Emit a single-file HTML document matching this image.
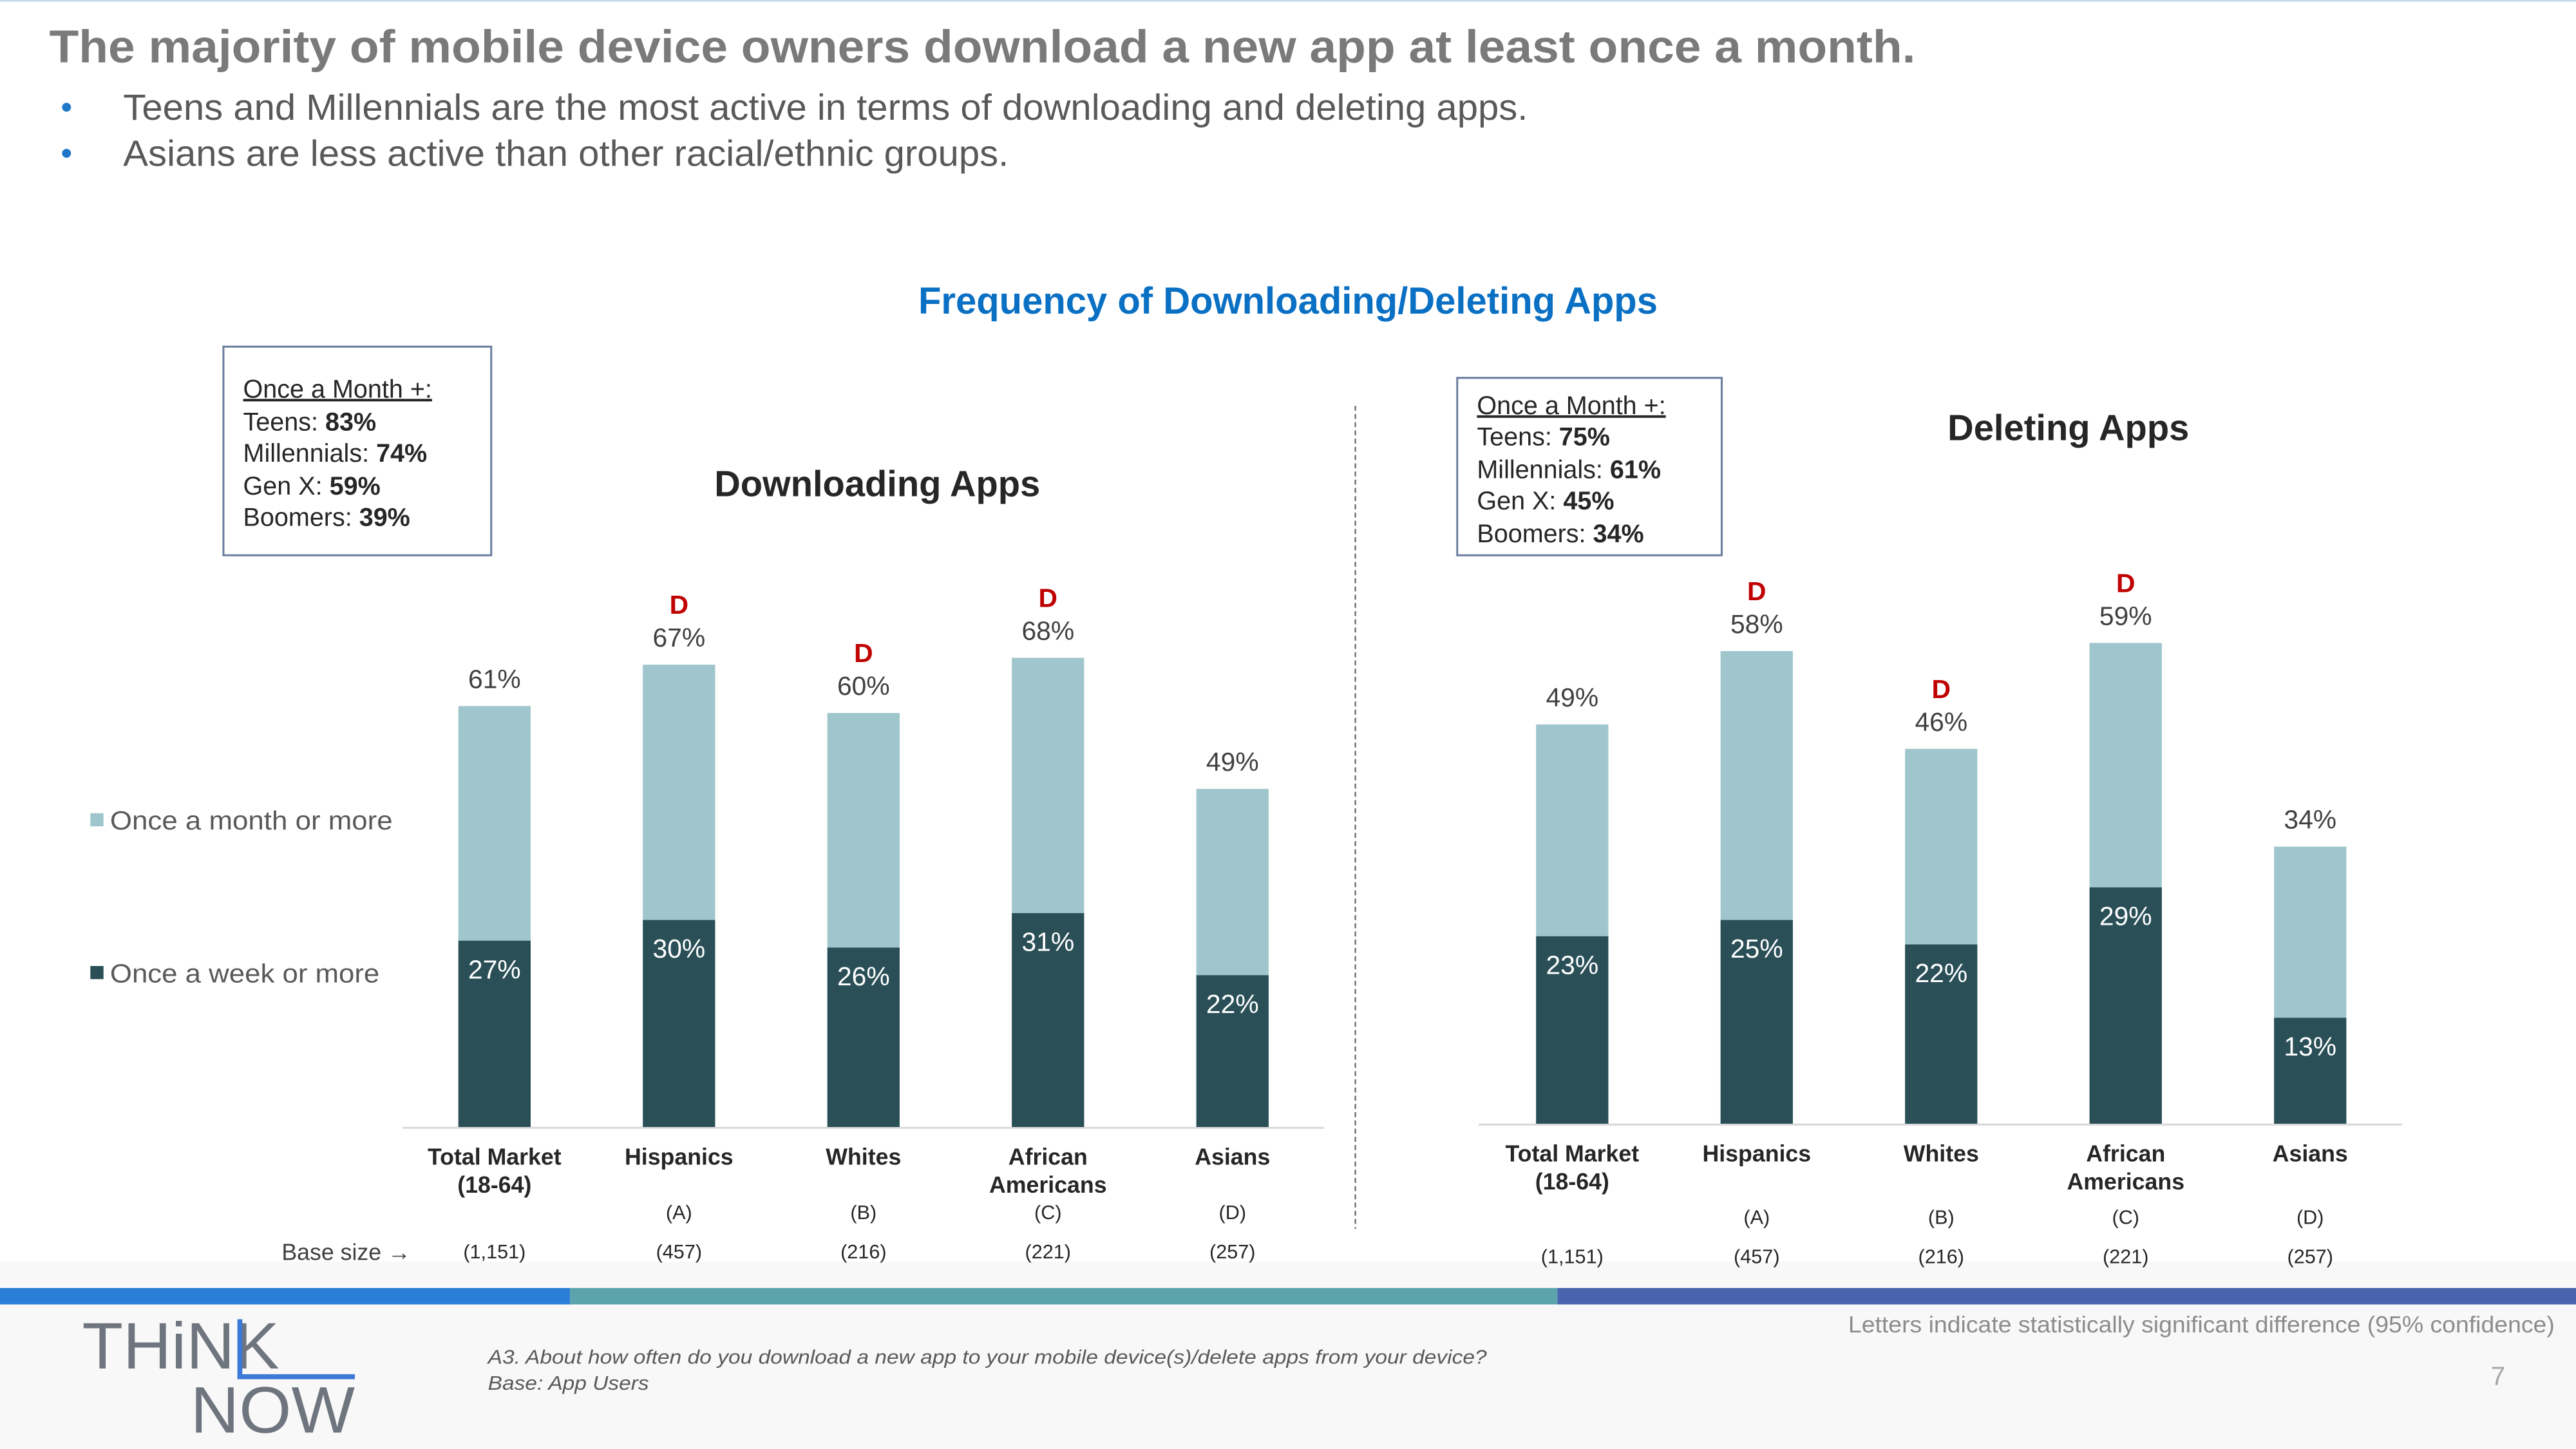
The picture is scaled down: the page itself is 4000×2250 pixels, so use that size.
<!DOCTYPE html>
<html><head><meta charset="utf-8"><style>
html,body{margin:0;padding:0;background:#fff}
svg{display:block}
text{font-family:"Liberation Sans",Arial,sans-serif}
</style></head><body>
<svg id="s" width="4000" height="2250" viewBox="0 0 1568 882" xmlns="http://www.w3.org/2000/svg">
<rect x="0" y="0" width="1568" height="882" fill="#fff"/>
<rect x="0" y="768" width="1568" height="114" fill="#f8f8f8"/>
<line x1="0" y1="0.5" x2="1568" y2="0.5" stroke="#bcd8ea" stroke-width="1"/>
<text x="30" y="38" font-size="28" font-weight="bold" fill="#7a7a7a" textLength="1136" lengthAdjust="spacingAndGlyphs">The majority of mobile device owners download a new app at least once a month.</text>
<text x="37" y="72" font-size="20" fill="#1f77c9">•</text>
<text x="75" y="73" font-size="22" fill="#595959" textLength="855" lengthAdjust="spacingAndGlyphs">Teens and Millennials are the most active in terms of downloading and deleting apps.</text>
<text x="37" y="100" font-size="20" fill="#1f77c9">•</text>
<text x="75" y="101" font-size="22" fill="#595959" textLength="539" lengthAdjust="spacingAndGlyphs">Asians are less active than other racial/ethnic groups.</text>
<text x="784" y="191" font-size="23" font-weight="bold" fill="#0a70c4" text-anchor="middle" textLength="450" lengthAdjust="spacingAndGlyphs">Frequency of Downloading/Deleting Apps</text>

<g>
<rect x="136" y="211" width="163" height="127" fill="#fff" stroke="#6b7fa0" stroke-width="1.2"/>
<text x="148" y="242" font-size="15.5" fill="#262626" text-decoration="underline">Once a Month +:</text>
<text x="148" y="262" font-size="15.5" fill="#262626">Teens: <tspan font-weight="bold">83%</tspan></text>
<text x="148" y="281" font-size="15.5" fill="#262626">Millennials: <tspan font-weight="bold">74%</tspan></text>
<text x="148" y="301" font-size="15.5" fill="#262626">Gen X: <tspan font-weight="bold">59%</tspan></text>
<text x="148" y="320" font-size="15.5" fill="#262626">Boomers: <tspan font-weight="bold">39%</tspan></text>
</g>
<g>
<rect x="887" y="230" width="161" height="108" fill="#fff" stroke="#6b7fa0" stroke-width="1.2"/>
<text x="899" y="252" font-size="15.5" fill="#262626" text-decoration="underline">Once a Month +:</text>
<text x="899" y="271" font-size="15.5" fill="#262626">Teens: <tspan font-weight="bold">75%</tspan></text>
<text x="899" y="291" font-size="15.5" fill="#262626">Millennials: <tspan font-weight="bold">61%</tspan></text>
<text x="899" y="310" font-size="15.5" fill="#262626">Gen X: <tspan font-weight="bold">45%</tspan></text>
<text x="899" y="330" font-size="15.5" fill="#262626">Boomers: <tspan font-weight="bold">34%</tspan></text>
</g>
<text x="534" y="302" font-size="22" font-weight="bold" fill="#262626" text-anchor="middle">Downloading Apps</text>
<text x="1259" y="268" font-size="22" font-weight="bold" fill="#262626" text-anchor="middle">Deleting Apps</text>
<line x1="825" y1="247" x2="825" y2="748" stroke="#777" stroke-width="1" stroke-dasharray="3,2"/>

<g>
<rect x="55" y="495" width="8" height="8" fill="#9fc6cc"/>
<text x="67" y="505" font-size="16" fill="#595959" textLength="172" lengthAdjust="spacingAndGlyphs">Once a month or more</text>
<rect x="55" y="588" width="8" height="8" fill="#2a4f57"/>
<text x="67" y="598" font-size="16" fill="#595959" textLength="164" lengthAdjust="spacingAndGlyphs">Once a week or more</text>
</g>
<text x="250" y="767" font-size="14" fill="#404040" text-anchor="end">Base size →</text>

<g>
<rect x="0" y="784" width="347" height="10" fill="#2b7ed6"/>
<rect x="347" y="784" width="601" height="10" fill="#5ba3ad"/>
<rect x="948" y="784" width="620" height="10" fill="#4a64b0"/>
<text x="50" y="833" font-size="40" fill="#6f757e" textLength="120" lengthAdjust="spacingAndGlyphs">THiNK</text>
<path d="M146 803 V838 H216" fill="none" stroke="#3c78d8" stroke-width="3"/>
<text x="116" y="872" font-size="40" fill="#6f757e" textLength="100" lengthAdjust="spacingAndGlyphs">NOW</text>
<text x="297" y="830" font-size="12" font-style="italic" fill="#595959" textLength="608" lengthAdjust="spacingAndGlyphs">A3. About how often do you download a new app to your mobile device(s)/delete apps from your device?</text>
<text x="297" y="846" font-size="12" font-style="italic" fill="#595959" textLength="98" lengthAdjust="spacingAndGlyphs">Base: App Users</text>
<text x="1555" y="811" font-size="14" fill="#8c8c8c" text-anchor="end" textLength="430" lengthAdjust="spacingAndGlyphs">Letters indicate statistically significant difference (95% confidence)</text>
<text x="1525" y="843" font-size="16" fill="#a6a6a6" text-anchor="end">7</text>
</g>
<g id="charts"></g>
</svg>
<script>
const categories = [["Total Market","(18-64)"],["Hispanics"],["Whites"],["African","Americans"],["Asians"]];
const letters = ["", "(A)", "(B)", "(C)", "(D)"];
const baseSizes = ["(1,151)","(457)","(216)","(221)","(257)"];
const downloadMonth = [61, 67, 60, 68, 49];
const downloadWeek = [27, 30, 26, 31, 22];
const downloadSig = ["", "D", "D", "D", ""];
const deleteMonth = [49, 58, 46, 59, 34];
const deleteWeek = [23, 25, 22, 29, 13];
const deleteSig = ["", "D", "D", "D", ""];

const NS = "http://www.w3.org/2000/svg";
const root = document.getElementById("charts");
function mk(tag, attrs, txt) {
  const e = document.createElementNS(NS, tag);
  for (const k in attrs) e.setAttribute(k, attrs[k]);
  if (txt !== undefined) e.textContent = txt;
  root.appendChild(e);
  return e;
}
function drawChart(cfg, month, week, sig, prefix) {
  const y = v => cfg.base - v * cfg.ppu;
  const x = i => cfg.x0 + i * cfg.step;
  const ax = mk("line", {x1: cfg.ax0, x2: cfg.ax1, y1: cfg.base + 0.5, y2: cfg.base + 0.5, stroke: "#d9d9d9", "stroke-width": 1.2});
  
  
  categories.forEach((c, i) => {
    const cx = x(i), w = 44;
    const b1 = mk("rect", {x: cx - w/2, y: y(month[i]), width: w, height: cfg.base - y(month[i]), fill: "#9fc6cc"});
    
    
    const b2 = mk("rect", {x: cx - w/2, y: y(week[i]), width: w, height: cfg.base - y(week[i]), fill: "#2a4f57"});
    
    
    const t1 = mk("text", {x: cx, y: y(month[i]) - 11, "font-size": 16, fill: "#404040", "text-anchor": "middle"}, month[i] + "%");
    
    
    if (sig[i]) {
      const s = mk("text", {x: cx, y: y(month[i]) - 31, "font-size": 16, "font-weight": "bold", fill: "#c00000", "text-anchor": "middle"}, sig[i]);
      
      
    }
    const t2 = mk("text", {x: cx, y: y(week[i]) + 23, "font-size": 16, fill: "#ffffff", "text-anchor": "middle"}, week[i] + "%");
    
    
    c.forEach((line, j) => {
      const ct = mk("text", {x: cx, y: cfg.catY + j * 17, "font-size": 14, "font-weight": "bold", fill: "#262626", "text-anchor": "middle"}, line);
      
      
    });
    if (letters[i]) {
      const l = mk("text", {x: cx, y: cfg.letY, "font-size": 12, fill: "#262626", "text-anchor": "middle"}, letters[i]);
      
      
    }
    const bs = mk("text", {x: cx, y: cfg.bsY, "font-size": 12, fill: "#262626", "text-anchor": "middle"}, baseSizes[i]);
    
    
  });
}
drawChart({base: 686, ppu: 4.2, x0: 301, step: 112.3, ax0: 245, ax1: 806, catY: 709, letY: 742, bsY: 766}, downloadMonth, downloadWeek, downloadSig, "download");
drawChart({base: 684, ppu: 4.96, x0: 957, step: 112.3, ax0: 900, ax1: 1462, catY: 707, letY: 745, bsY: 769}, deleteMonth, deleteWeek, deleteSig, "delete");
</script>
</body></html>
